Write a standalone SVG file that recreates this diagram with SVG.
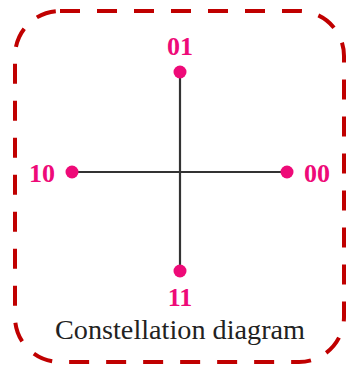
<svg xmlns="http://www.w3.org/2000/svg" width="348" height="367" viewBox="0 0 348 367">
<style>
.frame{fill:none;stroke:#c00000;stroke-width:4;stroke-dasharray:20 17}
.axis{stroke:#333;stroke-width:2.2}
.pt{fill:#ee0a78}
.lbl{font-family:"Liberation Serif",serif;font-weight:bold;font-size:26px;fill:#ee0a78}
.cap{font-family:"Liberation Serif",serif;font-size:27px;fill:#222}
</style>
<rect class="frame" x="15" y="11" width="329" height="351" rx="45" ry="45"/>
<g id="connectors">
<line class="axis" x1="180" y1="72" x2="180" y2="271"/>
<line class="axis" x1="72" y1="172" x2="287" y2="172"/>
</g>
<g id="n01"><circle class="pt" cx="180" cy="72" r="6.5"/><text class="lbl" x="180" y="55" text-anchor="middle">01</text></g>
<g id="n10"><circle class="pt" cx="72" cy="172" r="6.5"/><text class="lbl" x="55" y="182" text-anchor="end">10</text></g>
<g id="n00"><circle class="pt" cx="287" cy="172" r="6.5"/><text class="lbl" x="304" y="182">00</text></g>
<g id="n11"><circle class="pt" cx="180" cy="271" r="6.5"/><text class="lbl" x="180" y="306" text-anchor="middle">11</text></g>
<g id="caption"><text class="cap" x="180" y="339" text-anchor="middle" textLength="250" lengthAdjust="spacingAndGlyphs">Constellation diagram</text></g>
</svg>
